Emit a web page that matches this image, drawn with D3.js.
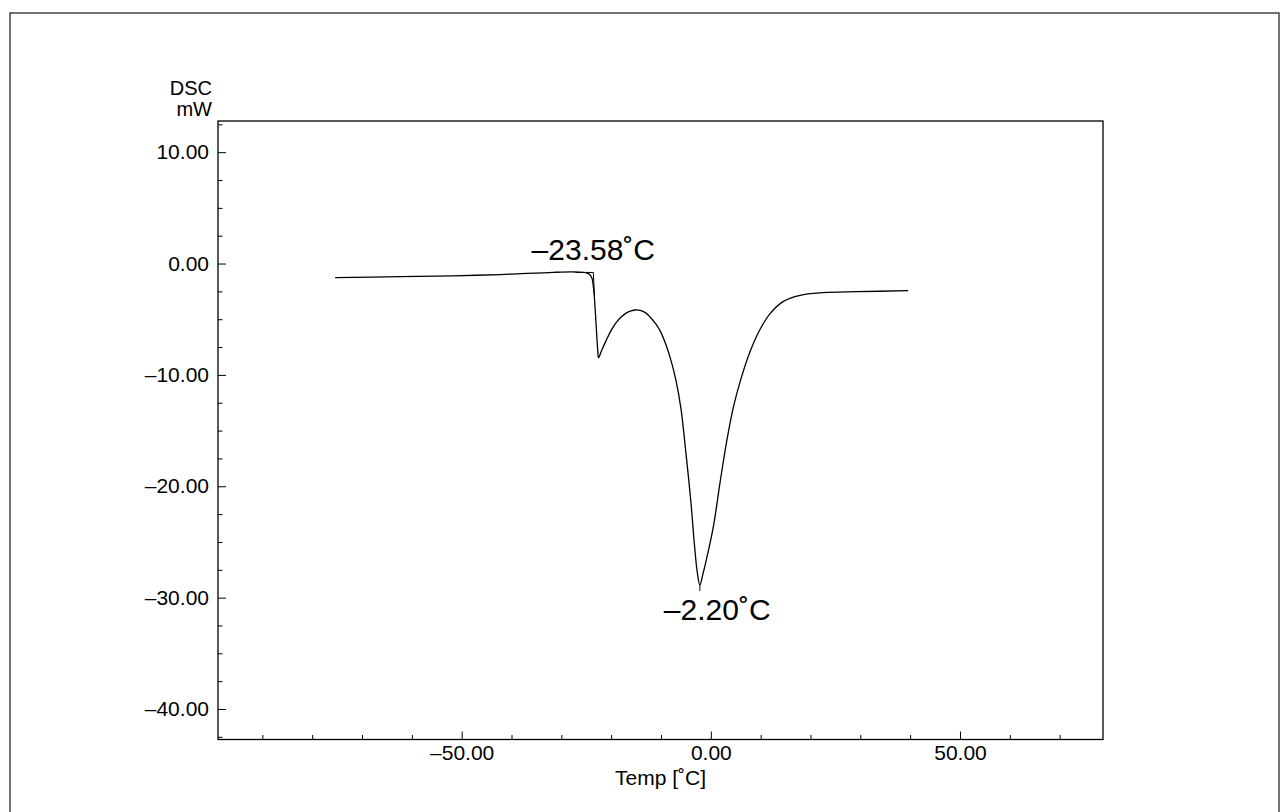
<!DOCTYPE html>
<html>
<head>
<meta charset="utf-8">
<script src="https://cdn.jsdelivr.net/npm/d3@7/dist/d3.min.js"></script>
<style>
  html, body { margin: 0; padding: 0; background: #fff; }
  svg { display: block; font-family: "Liberation Sans", Arial, sans-serif; }
</style>
</head>
<body>
<svg id="chart" width="1281" height="812"></svg>
<script>
// DSC trace: temperature (°C) and heat flow (mW)
const temps = [-75.4, -62.3, -51.7, -42.3, -31.6, -27.2, -24.9, -24.3, -23.87, -23.5, -23.2, -22.9, -22.7, -22.54,
  -22.0, -21.0, -20.0, -19.0, -18.0, -17.0, -16.0, -15.2, -14.0, -13.0, -12.2, -11.0, -10.0, -9.0, -8.0, -7.0,
  -6.0, -5.0, -4.0, -3.3, -2.7, -2.20, -1.6, -0.8, 0.52, 1.87, 3.21, 4.53, 5.88, 7.88, 9.89, 11.89, 14.56, 17.9,
  22.6, 29.3, 39.6];
const heatFlow = [-1.27, -1.17, -1.10, -0.99, -0.79, -0.76, -0.83, -0.99, -1.30, -2.38, -4.17, -6.42, -7.76, -8.46,
  -7.9, -6.9, -6.0, -5.3, -4.8, -4.45, -4.25, -4.17, -4.22, -4.45, -4.8, -5.45, -6.2, -7.3, -8.7, -10.5,
  -13.0, -17.0, -21.4, -25.2, -27.8, -28.86, -27.9, -26.4, -23.6, -19.6, -15.9, -12.9, -10.6, -7.9, -5.9, -4.5,
  -3.4, -2.85, -2.62, -2.53, -2.44];

// Events found on the trace
const onsetTemp = -23.58;
const onsetFlow = -0.8;
const tangentEnd = [-23.33, -3.0];
const peakTemp = -2.20;
const peakFlow = -28.86;

// Axis ticks
const xMajorTicks = [-50, 0, 50];
const xMinorTicks = [-90, -80, -70, -60, -40, -30, -20, -10, 10, 20, 30, 40, 60, 70];
const yMajorTicks = [10, 0, -10, -20, -30, -40];
const yMinorTicks = [12.5, 7.5, 5, 2.5, -2.5, -5, -7.5, -12.5, -15, -17.5, -22.5, -25, -27.5, -32.5, -35, -37.5, -42.5];

const fmt = v => (v < 0 ? "\u2013" + Math.abs(v).toFixed(2) : v.toFixed(2));

const svg = d3.select("#chart");
const plotLeft = 218, plotRight = 1103, plotTop = 121, plotBottom = 739.5;

const x = d3.scaleLinear().domain([-98.9, 78.7]).range([plotLeft, plotRight]);
const y = d3.scaleLinear().domain([-42.74, 12.8]).range([plotBottom, plotTop]);

// outer frame
svg.append("path")
  .attr("d", `M10,820 L10,13 L1279,13 L1279,820`)
  .attr("fill", "none").attr("stroke", "#444").attr("stroke-width", 1.5);

// plot box
svg.append("rect")
  .attr("x", plotLeft).attr("y", plotTop)
  .attr("width", plotRight - plotLeft).attr("height", plotBottom - plotTop)
  .attr("fill", "none").attr("stroke", "#000").attr("stroke-width", 1.3);

// x axis (ticks point inward)
const xAxisMajor = d3.axisBottom(x).tickValues(xMajorTicks).tickSize(-8).tickPadding(6).tickFormat(fmt);
const xAxisMinor = d3.axisBottom(x).tickValues(xMinorTicks).tickSize(-4.5).tickFormat("");
const gx = svg.append("g").attr("transform", `translate(0,${plotBottom})`);
gx.call(xAxisMajor);
const gx2 = svg.append("g").attr("transform", `translate(0,${plotBottom})`);
gx2.call(xAxisMinor);

// y axis (ticks point inward)
const yAxisMajor = d3.axisLeft(y).tickValues(yMajorTicks).tickSize(-8).tickPadding(9).tickFormat(fmt);
const yAxisMinor = d3.axisLeft(y).tickValues(yMinorTicks).tickSize(-4.5).tickFormat("");
const gy = svg.append("g").attr("transform", `translate(${plotLeft},0)`);
gy.call(yAxisMajor);
const gy2 = svg.append("g").attr("transform", `translate(${plotLeft},0)`);
gy2.call(yAxisMinor);

[gx, gx2, gy, gy2].forEach(g => {
  g.select(".domain").remove();
  g.selectAll(".tick line").attr("stroke", "#000").attr("stroke-width", 1);
  g.selectAll(".tick text").attr("font-size", 21).attr("fill", "#000")
    .attr("font-family", "'Liberation Sans', Arial, sans-serif");
});

// axis titles
svg.append("text").attr("x", 212).attr("y", 95).attr("text-anchor", "end")
  .attr("font-size", 20).text("DSC");
svg.append("text").attr("x", 212).attr("y", 116).attr("text-anchor", "end")
  .attr("font-size", 20).text("mW");
svg.append("text").attr("x", (plotLeft + plotRight) / 2).attr("y", 785).attr("text-anchor", "middle")
  .attr("font-size", 21).text("Temp [\u02DAC]");

// trace
const pts = temps.map((t, i) => [t, heatFlow[i]]);
const line = d3.line().x(d => x(d[0])).y(d => y(d[1])).curve(d3.curveCatmullRom.alpha(0.5));
svg.append("path").datum(pts).attr("d", line)
  .attr("fill", "none").attr("stroke", "#000").attr("stroke-width", 1.3);

// onset construction: extended baseline and tangent
svg.append("path")
  .attr("d", `M${x(-27)},${y(onsetFlow)} L${x(onsetTemp)},${y(onsetFlow)} L${x(tangentEnd[0])},${y(tangentEnd[1])}`)
  .attr("fill", "none").attr("stroke", "#000").attr("stroke-width", 1);

// peak marker
svg.append("line")
  .attr("x1", x(peakTemp)).attr("x2", x(peakTemp))
  .attr("y1", y(peakFlow)).attr("y2", y(peakFlow) + 6)
  .attr("stroke", "#000").attr("stroke-width", 1);

// annotations
svg.append("text").attr("x", x(onsetTemp)).attr("y", y(onsetFlow) - 12)
  .attr("text-anchor", "middle").attr("font-size", 30).text(fmt(onsetTemp) + "\u02DAC");
svg.append("text").attr("x", x(peakTemp) - 36).attr("y", y(peakFlow) + 35)
  .attr("text-anchor", "start").attr("font-size", 30).text(fmt(peakTemp) + "\u02DAC");
</script>
</body>
</html>
